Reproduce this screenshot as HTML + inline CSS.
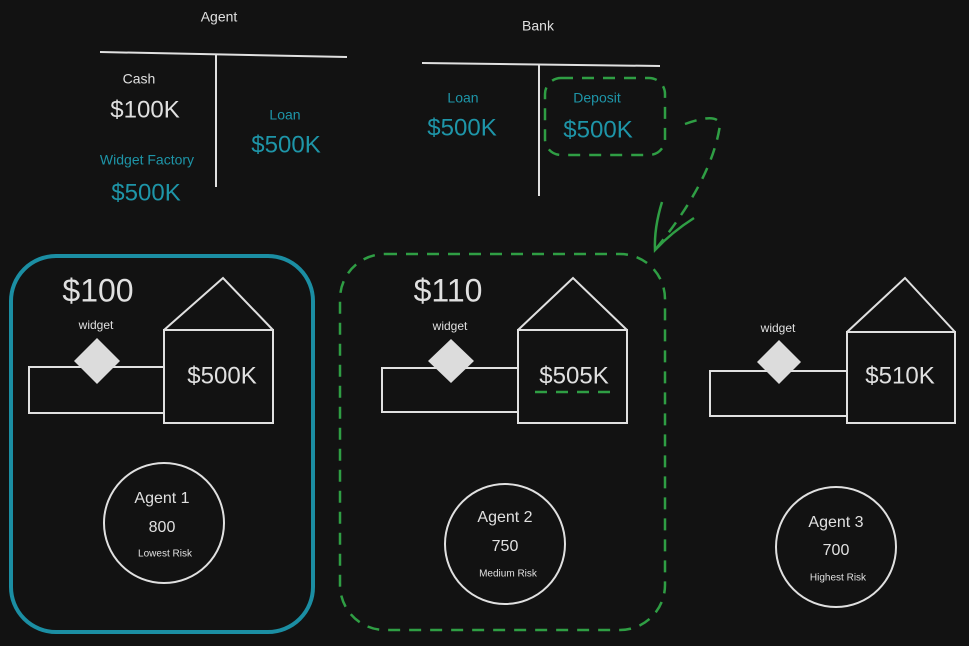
<!DOCTYPE html>
<html><head><meta charset="utf-8"><style>
html,body{margin:0;padding:0;background:#121212;width:969px;height:646px;overflow:hidden}
svg{display:block}
text{font-family:"Liberation Sans",sans-serif;text-anchor:middle;dominant-baseline:middle}
</style></head><body>
<svg width="969" height="646" viewBox="0 0 969 646" xmlns="http://www.w3.org/2000/svg">
<rect width="969" height="646" fill="#121212"/>
<g stroke="#e0e0e0" stroke-width="2" fill="none">
<line x1="100" y1="52" x2="347" y2="57"/>
<line x1="216" y1="55" x2="216" y2="187"/>
<line x1="422" y1="63" x2="660" y2="66"/>
<line x1="539" y1="65" x2="539" y2="196"/>
</g>
<g fill="#e0e0e0">
<text x="219" y="18" font-size="14">Agent</text>
<text x="538" y="27" font-size="14">Bank</text>
<text x="139" y="80" font-size="14">Cash</text>
<text x="145" y="111" font-size="24">$100K</text>
</g>
<g fill="#1e95a8">
<text x="147" y="161" font-size="14">Widget Factory</text>
<text x="146" y="194" font-size="24">$500K</text>
<text x="285" y="116" font-size="14">Loan</text>
<text x="286" y="146" font-size="24">$500K</text>
<text x="463" y="99" font-size="14">Loan</text>
<text x="462" y="129" font-size="24">$500K</text>
<text x="597" y="99" font-size="14">Deposit</text>
<text x="598" y="131" font-size="24">$500K</text>
</g>
<g stroke="#2f9e44" stroke-width="2.5" fill="none" stroke-dasharray="12 9">
<rect x="545" y="78" width="120" height="77" rx="16"/>
<path d="M685 124 Q718 112 720 125 Q712 180 655 250"/>
<rect x="340" y="254" width="325" height="376" rx="45"/>
<line x1="535" y1="392" x2="618" y2="392"/>
</g>
<g stroke="#2f9e44" stroke-width="2.5" fill="none">
<path d="M662 202 Q654 228 655 250 Q672 232 694 218"/>
</g>
<rect x="11" y="256" width="302" height="376" rx="45" fill="none" stroke="#1b8ea3" stroke-width="4"/>

<g stroke="#e0e0e0" stroke-width="2" fill="none">
<rect x="29" y="367" width="135" height="46"/>
<rect x="164" y="330" width="109" height="93"/>
<polyline points="164,330 223,278 273,330"/>
<circle cx="164" cy="523" r="60"/>
<rect x="382" y="368" width="136" height="44"/>
<rect x="518" y="330" width="109" height="93"/>
<polyline points="518,330 573,278 627,330"/>
<circle cx="505" cy="544" r="60"/>
<rect x="710" y="371" width="137" height="45"/>
<rect x="847" y="332" width="108" height="91"/>
<polyline points="847,332 905,278 955,332"/>
<circle cx="836" cy="547" r="60"/>
</g>
<g fill="#dcdcdc">
<polygon points="97,338 120,361 97,384 74,361"/>
<polygon points="451,339 474,361 451,383 428,361"/>
<polygon points="779,340 801,362 779,384 757,362"/>
</g>
<g fill="#e0e0e0">
<text x="98" y="293" font-size="32">$100</text>
<text x="96" y="326" font-size="12">widget</text>
<text x="222" y="377" font-size="24">$500K</text>
<text x="162" y="499" font-size="16">Agent 1</text>
<text x="162" y="528" font-size="16">800</text>
<text x="165" y="554" font-size="10">Lowest Risk</text>

<text x="448" y="293" font-size="32">$110</text>
<text x="450" y="327" font-size="12">widget</text>
<text x="574" y="377" font-size="24">$505K</text>
<text x="505" y="518" font-size="16">Agent 2</text>
<text x="505" y="547" font-size="16">750</text>
<text x="508" y="574" font-size="10">Medium Risk</text>

<text x="778" y="329" font-size="12">widget</text>
<text x="900" y="377" font-size="24">$510K</text>
<text x="836" y="523" font-size="16">Agent 3</text>
<text x="836" y="551" font-size="16">700</text>
<text x="838" y="578" font-size="10">Highest Risk</text>
</g>
</svg>
</body></html>
